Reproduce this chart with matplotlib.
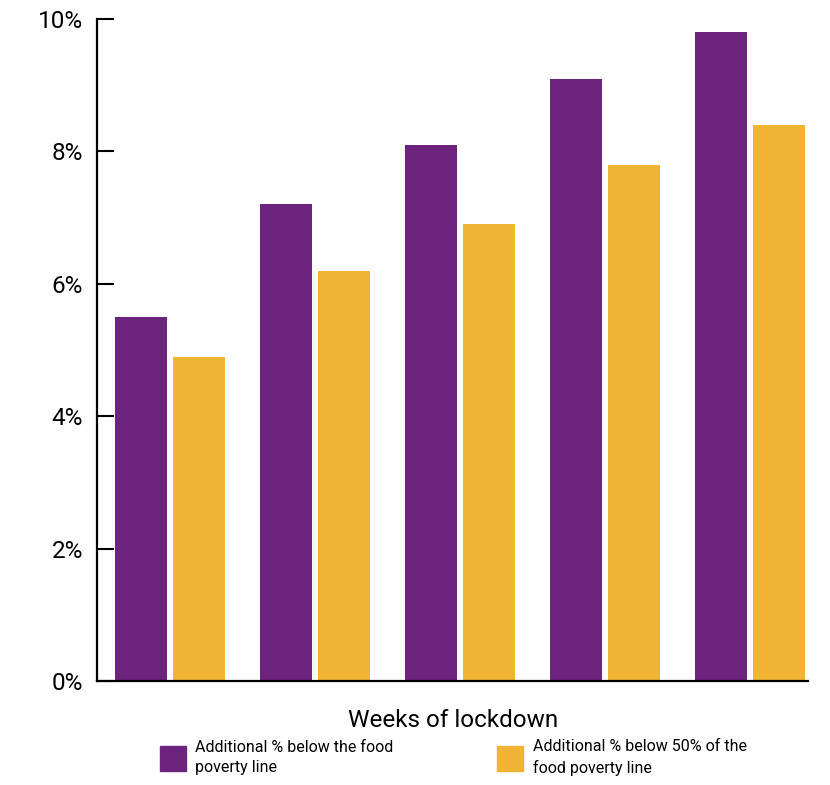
import matplotlib.pyplot as plt
from matplotlib.patches import Patch
import numpy as np

plt.rcParams['font.family'] = ['Roboto', 'DejaVu Sans']

# Additional share of households below the food poverty line, by weeks of lockdown
groups = [1, 2, 3, 4, 5]
below_line = [5.5, 7.2, 8.1, 9.1, 9.8]
below_half_line = [4.9, 6.2, 6.9, 7.8, 8.4]
y_ticks = [0, 2, 4, 6, 8, 10]
y_labels = ['0%', '2%', '4%', '6%', '8%', '10%']

purple = '#6B237E'
yellow = '#F1B434'

fig = plt.figure(figsize=(8.3, 7.85), dpi=100)
ax = fig.add_axes([0.117, 0.1325, 0.857, 0.8433])

x = np.arange(len(groups))
w = 0.359
ax.bar(x - 0.2, below_line, w, color=purple)
ax.bar(x + 0.2, below_half_line, w, color=yellow)

ax.set_xlim(-0.503, 4.4)
ax.set_ylim(0, 10)
ax.set_yticks(y_ticks)
ax.set_yticklabels(y_labels, fontsize=17.5)
ax.set_xticks([])
ax.tick_params(axis='y', direction='in', length=12, width=1.5, pad=10)

for s in ['top', 'right']:
    ax.spines[s].set_visible(False)
for s in ['left', 'bottom']:
    ax.spines[s].set_linewidth(1.6)

ax.set_xlabel('Weeks of lockdown', fontsize=17.5, labelpad=20)

handles = [Patch(color=purple, label='Additional % below the food\npoverty line'),
           Patch(color=yellow, label='Additional % below 50% of the\nfood poverty line')]
leg = fig.legend(handles=handles, loc='upper left', bbox_to_anchor=(0.193, 0.058),
                 ncol=2, frameon=False, fontsize=11.5, handlelength=1.6, handleheight=2.0,
                 columnspacing=6.5, handletextpad=0.6, borderaxespad=0, borderpad=0)
for t in leg.get_texts():
    t.set_linespacing(1.4)

fig.savefig('out.png', dpi=100)
